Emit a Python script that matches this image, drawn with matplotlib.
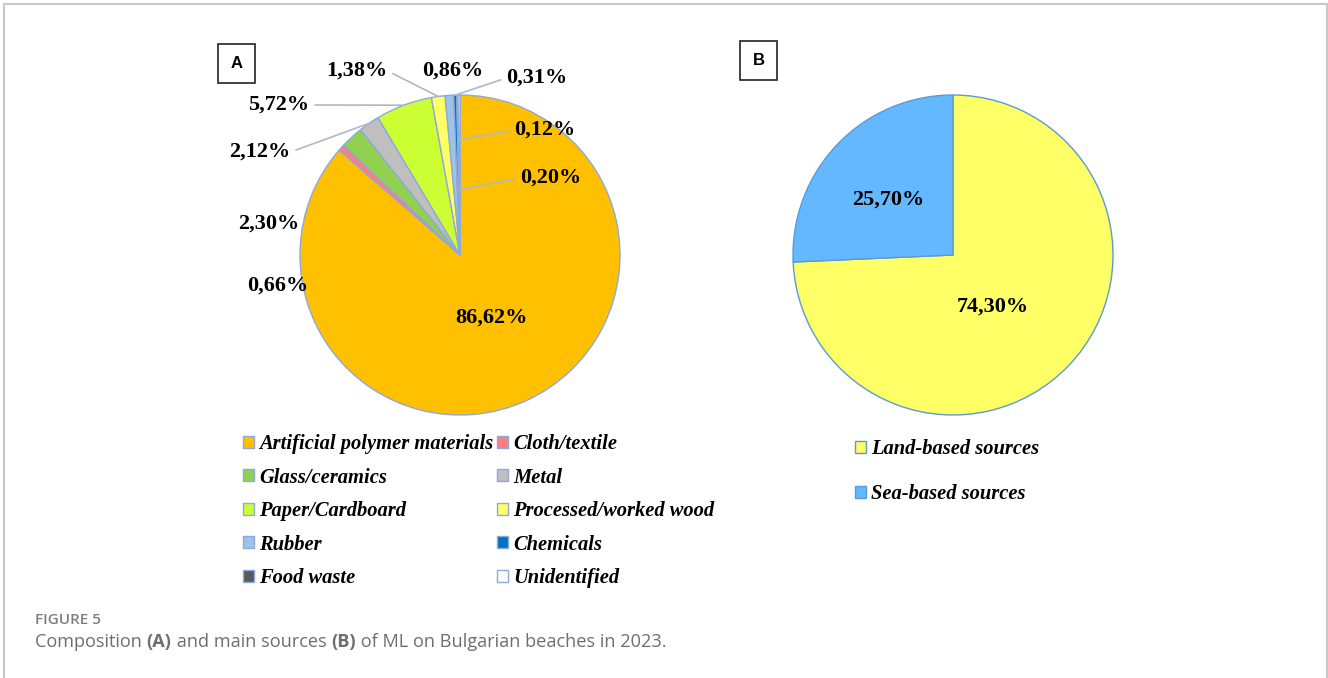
import matplotlib.pyplot as plt
import numpy as np
from matplotlib.patches import Rectangle

W, H = 1328, 678

# panel A: composition
comp_labels = ["Artificial polymer materials", "Cloth/textile", "Glass/ceramics", "Metal",
               "Paper/Cardboard", "Processed/worked wood", "Rubber", "Chemicals",
               "Food waste", "Unidentified"]
comp_values = [86.62, 0.66, 2.30, 2.12, 5.72, 1.38, 0.86, 0.31, 0.12, 0.20]
comp_colors = ["#FFC000", "#FF7C80", "#92D050", "#BFBFBF", "#CCFF33", "#FFFF66",
               "#9DC3E6", "#0070C0", "#595959", "#FFFFFF"]

# panel B: sources
src_labels = ["Land-based sources", "Sea-based sources"]
src_values = [74.30, 25.70]
src_colors = ["#FFFF66", "#63B8FF"]


def fmt(v):
    return f"{v:.2f}".replace(".", ",") + "%"


def py(y):
    # pixel row (from top) -> data y
    return H - y


fig = plt.figure(figsize=(W / 100, H / 100), dpi=100)
ax = fig.add_axes([0, 0, 1, 1])

cA = (460, py(255))
cB = (953, py(255))
R = 160

wedges_a, _ = ax.pie(comp_values, colors=comp_colors, startangle=90, counterclock=False,
                     center=cA, radius=R,
                     wedgeprops=dict(edgecolor="#8EA9DB", linewidth=1.0))
wedges_b, _ = ax.pie(src_values, colors=src_colors, startangle=90, counterclock=False,
                     center=cB, radius=R,
                     wedgeprops=dict(edgecolor="#5B9BD5", linewidth=1.0))
ax.set_xlim(0, W)
ax.set_ylim(0, H)
ax.set_aspect("equal")
ax.axis("off")

lab_font = dict(family="Liberation Serif", fontweight="bold", fontsize=16, color="black")
lead_col = "#AFB8C4"

# label text centres (pixels) and leader end radius (fraction of R, None = no leader)
label_pos = [(491, 318), (278, 286), (269, 224), (260, 152), (279, 105),
             (357, 71), (453, 71), (537, 78), (545, 130), (551, 178)]
leader_r = [None, None, None, 1.0, 1.0, 1.0, None, 1.0, 0.72, 0.41]

for w, v, (tx, ty), lr in zip(wedges_a, comp_values, label_pos, leader_r):
    if lr is None:
        ax.text(tx, py(ty), fmt(v), ha="center", va="center", **lab_font)
        continue
    mid = np.deg2rad((w.theta1 + w.theta2) / 2)
    target = (cA[0] + lr * R * np.cos(mid), cA[1] + lr * R * np.sin(mid))
    left = tx < 400
    ax.annotate(fmt(v), xy=target, xytext=(tx, py(ty)), ha="center", va="center",
                arrowprops=dict(arrowstyle="-", color=lead_col, lw=1.2, shrinkA=2, shrinkB=0,
                                relpos=(1, 0.5) if left else (0, 0.5)),
                **lab_font)

ax.text(888, py(200), fmt(src_values[1]), ha="center", va="center", **lab_font)
ax.text(993, py(307), fmt(src_values[0]), ha="center", va="center", **lab_font)

# legends (reference fills row by row, matplotlib column by column)
order = [0, 2, 4, 6, 8, 1, 3, 5, 7, 9]
leg_font = dict(family="Liberation Serif", weight="bold", style="italic", size=14.8)
legA = ax.legend([wedges_a[i] for i in order], [comp_labels[i] for i in order],
                 ncol=2, loc="upper left",
                 bbox_to_anchor=(243, py(434)), bbox_transform=ax.transData,
                 frameon=False, prop=leg_font, handlelength=0.53, handleheight=0.53,
                 handletextpad=0.25, labelspacing=0.66, columnspacing=0.2, borderpad=0,
                 borderaxespad=0)
ax.add_artist(legA)
ax.legend(wedges_b, src_labels, ncol=1, loc="upper left",
          bbox_to_anchor=(855, py(439)), bbox_transform=ax.transData,
          frameon=False, prop=leg_font, handlelength=0.53, handleheight=0.53,
          handletextpad=0.25, labelspacing=1.22, borderpad=0, borderaxespad=0)

# panel letters
for letter, (x0, y0) in zip(["A", "B"], [(218, 44), (740, 41)]):
    ax.add_patch(Rectangle((x0, py(y0 + 39)), 37, 39, fill=False, edgecolor="#222222", lw=1.2))
    ax.text(x0 + 18.5, py(y0 + 19.5), letter, ha="center", va="center",
            family="Liberation Sans", fontweight="bold", fontsize=12)

# outer frame (left, top, right)
ax.plot([4, 4, 1326.5, 1326.5], [0, py(4), py(4), 0], color="#C8C8C8", lw=1.5,
        solid_joinstyle="miter")

# caption
ax.text(35, py(624), "FIGURE 5", ha="left", va="baseline", family="Open Sans",
        fontsize=11, color="#7F7F7F", fontweight="semibold")
parts = [("Composition ", "normal"), ("(A)", "bold"), (" and main sources ", "normal"),
         ("(B)", "bold"), (" of ML on Bulgarian beaches in 2023.", "normal")]
renderer = fig.canvas.get_renderer()
x = 35
for txt, wt in parts:
    t = ax.text(x, py(647), txt, ha="left", va="baseline", family="Open Sans",
                fontsize=13.1, color="#6E6E6E", fontweight=wt)
    x += t.get_window_extent(renderer=renderer).width

fig.savefig("out.png", dpi=100)
